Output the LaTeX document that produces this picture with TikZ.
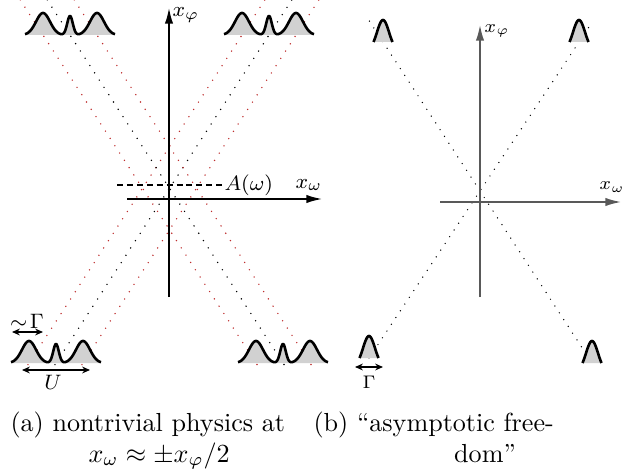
\documentclass[tikz,border=0pt]{standalone}
\usetikzlibrary{arrows.meta,calc}
\definecolor{dotred}{RGB}{190,45,45}
\newcommand{\wpacket}[1]{%
  \begin{scope}[shift={(#1)}]
    \fill[pfill] (-45,0) -- plot[domain=-45:45,samples=181] (\x,{-pk(\x)}) -- (45,0) -- cycle;
    \draw[pline] plot[domain=-45:45,samples=181] (\x,{-pk(\x)});
  \end{scope}}
\newcommand{\sbump}[1]{%
  \begin{scope}[shift={(#1)}]
    \fill[pfill] (-9.5,0) -- plot[domain=-9.5:9.5,samples=41] (\x,{-bp(\x)}) -- (9.5,0) -- cycle;
    \draw[pline] plot[domain=-9.5:9.5,samples=41] (\x,{-bp(\x)});
  \end{scope}}
\begin{document}
\begin{tikzpicture}[x=0.383pt,y=-0.383pt,
  declare function={
    gs(\u,\s)=exp(-min(40,(\u)*(\u)/\s));
    pk(\t)=22*gs(\t+27,98)+19*gs(\t,15.7)+22*gs(\t-27,98);
    bp(\t)=22*(gs(\t,72)-0.2857)/0.7143;},
  pfill/.style={fill=black!18},
  pline/.style={draw=black,line width=1pt,line join=round},
  reddots/.style={draw=dotred,line width=0.6pt,line cap=round,dash pattern=on 0pt off 3.33pt},
  blackdots/.style={draw=black,line width=0.6pt,line cap=round,dash pattern=on 0pt off 3.33pt},
  sdots/.style={draw=black,line width=0.55pt,line cap=round,dash pattern=on 0pt off 3.1pt},
  axis/.style={draw=black,line width=0.6pt,-{Latex[length=6pt,width=3.2pt]}},
  gaxis/.style={draw=black!65,line width=0.6pt,-{Latex[length=6pt,width=3.2pt]}},
  dim/.style={draw=black,line width=0.5pt,{Stealth[length=3pt,width=2.6pt]}-{Stealth[length=3pt,width=2.6pt]}},
  lab/.style={font=\footnotesize,inner sep=0pt},
  slab/.style={font=\fontsize{7.5}{9}\selectfont,inner sep=0pt}
]
\useasboundingbox (0,0) rectangle (622,474);

% ---------- left panel ----------
\coordinate (TL) at (70,35);
\coordinate (TR) at (269,35);
\coordinate (BL) at (56,363);
\coordinate (BR) at (283,363);
\foreach \o [count=\i] in {-27,0,27} {
  \coordinate (TL\i) at ($(TL)+(\o,0)$);
  \coordinate (TR\i) at ($(TR)+(\o,0)$);
  \coordinate (BL\i) at ($(BL)+(\o,0)$);
  \coordinate (BR\i) at ($(BR)+(\o,0)$);
}
\foreach \i/\s in {1/reddots,2/blackdots,3/reddots} {
  \draw[\s] ($(TL\i)!-0.107!(BR\i)$) -- ($(BR\i)!-0.015!(TL\i)$);
  \draw[\s] ($(BL\i)!-0.005!(TR\i)$) -- ($(TR\i)!-0.107!(BL\i)$);
}

% axes
\coordinate (vb) at (169,297);
\coordinate (vt) at (169,8);
\coordinate (hl) at (127,199);
\coordinate (hr) at (322,199);
\draw[axis] (vb) -- (vt);
\draw[axis] (hl) -- (hr);
\node[lab] (xphiA) at (186,15) {$x_\varphi$};
\node[lab] (xomA) at (309,185) {$x_\omega$};

% A(omega)
\coordinate (dl) at (117,185);
\node[lab,anchor=west] (Aom) at (224,185) {$A(\omega)$};
\draw[black,line width=0.45pt,dash pattern=on 2.3pt off 1.5pt] (dl) -- (Aom.west);

% packets
\wpacket{TL}
\wpacket{TR}
\wpacket{BL}
\wpacket{BR}

% dimension marks
\coordinate (ga) at (12,332);
\coordinate (gb) at (43,332);
\draw[dim] (ga) -- (gb);
\node[lab] (simG) at (27,321) {$\sim\!\Gamma$};
\coordinate (ua) at (22,370);
\coordinate (ub) at (90,370);
\draw[dim] (ua) -- (ub);
\node[lab] (Ulab) at (53,382) {$U$};

% ---------- right panel ----------
\coordinate (tl) at (383,42);
\coordinate (tr) at (579,42);
\coordinate (bl) at (369,358);
\coordinate (br) at (592,363);
\draw[sdots] ($(tl)!-0.065!(br)$) -- (br);
\draw[sdots] (bl) -- ($(tr)!-0.065!(bl)$);

\coordinate (Vb) at (480,297);
\coordinate (Vt) at (480,25);
\coordinate (Hl) at (440,202);
\coordinate (Hr) at (621,202);
\draw[gaxis] (Vb) -- (Vt);
\draw[gaxis] (Hl) -- (Hr);
\node[slab] (xphiB) at (497,31) {$x_\varphi$};
\node[slab] (xomB) at (612,187) {$x_\omega$};

\sbump{tl}
\sbump{tr}
\sbump{bl}
\sbump{br}

\coordinate (Ga) at (355,367);
\coordinate (Gb) at (383,367);
\draw[dim] (Ga) -- (Gb);
\node[slab] (Glab) at (369,382) {$\Gamma$};

% ---------- captions ----------
\node[anchor=base west,inner sep=0pt] (capa1) at (10,431) {(a) nontrivial physics at};
\node[anchor=base west,inner sep=0pt] (capa2) at (88,462) {$x_\omega \approx \pm x_\varphi/2$};
\node[anchor=base west,inner sep=0pt] (capb1) at (313,431) {(b) ``asymptotic free-};
\node[anchor=base,inner sep=0pt] (capb2) at (485,462) {dom''};
\end{tikzpicture}
\end{document}
